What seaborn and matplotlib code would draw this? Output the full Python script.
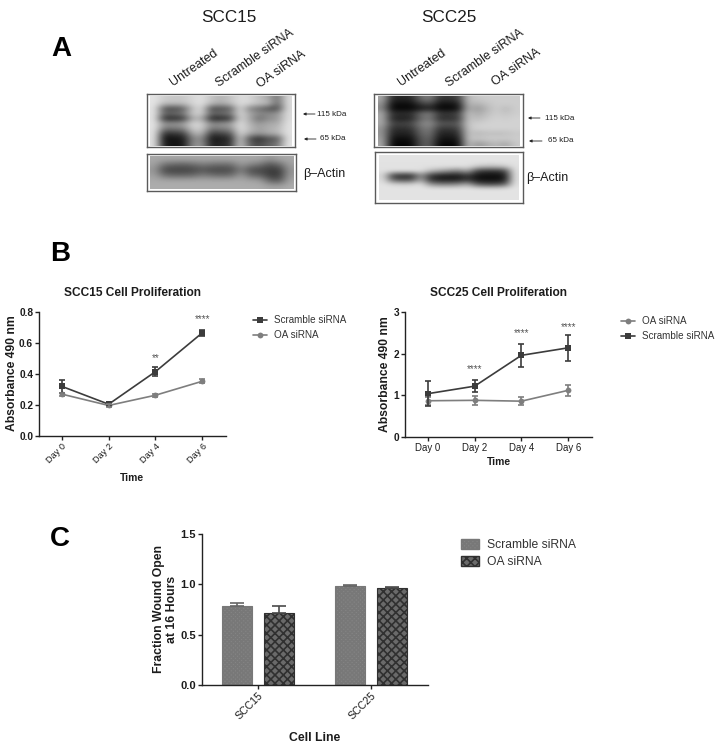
import matplotlib
matplotlib.use('Agg')
import matplotlib.pyplot as plt
from matplotlib.patches import Patch
import numpy as np
import pandas as pd
import seaborn as sns

W, H = 722, 749

days = ["Day 0", "Day 2", "Day 4", "Day 6"]
cell_lines = ["SCC15", "SCC25"]
lanes = ["Untreated", "Scramble siRNA", "OA siRNA"]

scc15_scramble = [0.32, 0.205, 0.415, 0.665]
scc15_scramble_err = [0.04, 0.01, 0.03, 0.02]
scc15_oa = [0.27, 0.197, 0.263, 0.353]
scc15_oa_err = [0.01, 0.01, 0.01, 0.012]
scc15_stars = ["", "", "**", "****"]
scc15_star_y = [0, 0, 0.5, 0.755]

scc25_scramble = [1.04, 1.22, 1.96, 2.14]
scc25_scramble_err = [0.3, 0.14, 0.28, 0.31]
scc25_oa = [0.87, 0.88, 0.86, 1.12]
scc25_oa_err = [0.1, 0.1, 0.1, 0.14]
scc25_stars = ["", "****", "****", "****"]
scc25_star_y = [0, 1.63, 2.5, 2.64]

wound_scramble = [0.788, 0.988]
wound_scramble_err = [0.03, 0.005]
wound_oa = [0.715, 0.964]
wound_oa_err = [0.07, 0.008]

# blot densities, grey levels
blot15_top = [
    [228, 205, 200, 200, 215, 225, 195, 180, 195, 220, 215, 190, 170, 110, 220],
    [228, 190, 190, 190, 215, 225, 185, 170, 190, 220, 215, 195, 190, 100, 220],
    [228, 80, 70, 90, 190, 215, 70, 80, 90, 220, 130, 110, 80, 70, 220],
    [228, 105, 110, 125, 205, 210, 105, 115, 125, 220, 170, 140, 140, 150, 220],
    [228, 40, 40, 50, 170, 170, 30, 35, 50, 215, 170, 105, 140, 150, 220],
    [228, 150, 150, 160, 215, 210, 140, 150, 160, 225, 180, 150, 170, 170, 225],
    [228, 120, 120, 130, 205, 205, 120, 130, 140, 225, 190, 160, 175, 185, 225],
    [228, 45, 55, 60, 170, 180, 55, 70, 85, 215, 170, 150, 170, 180, 225],
    [228, 15, 20, 25, 130, 140, 20, 30, 40, 205, 80, 40, 80, 85, 225],
    [228, 25, 20, 20, 140, 150, 30, 40, 50, 210, 100, 70, 100, 115, 228],
]
blot15_actin = [
    [168, 168, 168, 168, 168, 168, 168, 168, 168, 168, 168, 168, 150, 168, 168],
    [162, 115, 105, 100, 110, 125, 115, 110, 115, 155, 135, 120, 85, 110, 160],
    [150, 70, 65, 65, 70, 85, 70, 70, 75, 125, 75, 70, 60, 60, 150],
    [160, 110, 100, 100, 105, 125, 110, 105, 110, 155, 105, 95, 60, 60, 155],
    [170, 170, 170, 170, 170, 170, 170, 170, 170, 170, 165, 160, 100, 90, 165],
    [172, 172, 172, 172, 172, 172, 172, 172, 172, 172, 172, 172, 165, 165, 172],
]
blot25_top = [
    [170, 40, 40, 40, 110, 130, 55, 55, 65, 190, 200, 205, 205, 205, 205],
    [150, 15, 15, 15, 60, 80, 20, 20, 30, 185, 180, 195, 205, 205, 205],
    [135, 5, 5, 5, 20, 30, 5, 5, 10, 175, 150, 180, 205, 185, 205],
    [170, 50, 50, 50, 110, 130, 60, 60, 70, 195, 170, 190, 205, 195, 205],
    [170, 35, 30, 35, 100, 120, 45, 45, 55, 195, 185, 200, 210, 205, 210],
    [170, 70, 70, 75, 130, 145, 90, 90, 90, 200, 205, 210, 210, 210, 210],
    [150, 45, 45, 50, 110, 125, 55, 55, 65, 195, 210, 210, 210, 210, 210],
    [150, 35, 35, 35, 100, 115, 35, 35, 45, 195, 180, 190, 190, 190, 200],
    [160, 15, 15, 15, 85, 100, 20, 20, 25, 195, 200, 205, 205, 205, 205],
    [170, 5, 5, 5, 80, 95, 5, 5, 10, 190, 150, 170, 185, 165, 200],
]
blot25_actin = [
    [228, 228, 228, 228, 228, 228, 228, 228, 228, 228, 228, 228, 228, 228, 228],
    [226, 226, 226, 226, 226, 226, 226, 226, 226, 226, 226, 226, 226, 226, 226],
    [225, 225, 225, 225, 225, 225, 225, 225, 225, 225, 205, 195, 195, 205, 225],
    [225, 225, 225, 225, 225, 190, 170, 150, 130, 170, 70, 55, 55, 70, 225],
    [215, 60, 45, 45, 150, 60, 35, 30, 30, 60, 20, 15, 15, 25, 225],
    [220, 95, 75, 80, 170, 50, 30, 28, 30, 55, 20, 15, 15, 25, 225],
    [226, 215, 210, 212, 226, 150, 130, 130, 140, 170, 90, 75, 75, 95, 226],
    [228, 228, 228, 228, 228, 228, 228, 228, 228, 228, 225, 222, 222, 225, 228],
    [228, 228, 228, 228, 228, 228, 228, 228, 228, 228, 228, 228, 228, 228, 228],
    [228, 228, 228, 228, 228, 228, 228, 228, 228, 228, 228, 228, 228, 228, 228],
]

DARK = "#3c3c3c"
MID = "#7e7e7e"
TXT = "#1c1c1c"
SCRAMBLE_BAR = "#858585"
OA_BAR = "#6a6a6a"

sns.set_style("ticks")
plt.rcParams['font.family'] = ['Liberation Sans', 'DejaVu Sans']
plt.rcParams['hatch.linewidth'] = 1.2

fig = plt.figure(figsize=(W / 100, H / 100), dpi=100)


def px_axes(left, top, right, bottom):
    return fig.add_axes([left / W, 1 - bottom / H, (right - left) / W, (bottom - top) / H])


def place_ylabel(ax, x, y):
    ax.yaxis.set_label_coords(x / W, 1 - y / H, transform=fig.transFigure)


def place_xlabel(ax, x, y):
    ax.xaxis.set_label_coords(x / W, 1 - y / H, transform=fig.transFigure)


def style_axes(ax):
    sns.despine(ax=ax)
    for side in ["left", "bottom"]:
        ax.spines[side].set_linewidth(1.0)
        ax.spines[side].set_color("#222222")
    ax.tick_params(length=3, width=1.0, color="#222222", pad=1.2)


def draw_blot(box, inner, grid):
    frame = px_axes(*box)
    frame.set_xticks([])
    frame.set_yticks([])
    for s in frame.spines.values():
        s.set_linewidth(1.0)
        s.set_color("#5a5a5a")
    im = px_axes(*inner)
    im.imshow(np.array(grid), cmap="gray", vmin=0, vmax=255, aspect="auto", interpolation="bicubic")
    im.axis("off")


def draw_growth(box, series, errs, marks, colors, stars, star_y, ylim, yticks, yfmt, title, title_xy,
                label_xy, time_xy, legend_xy, rotate):
    ax = px_axes(*box)
    df = pd.DataFrame({
        "Time": days * len(series),
        "Absorbance": np.concatenate(list(series.values())),
        "Group": np.repeat(list(series.keys()), len(days)),
    })
    sns.lineplot(data=df, x="Time", y="Absorbance", hue="Group", style="Group", hue_order=list(series),
                 palette=colors, markers=marks, dashes=False, markersize=4.2, linewidth=1.2,
                 markeredgewidth=0, errorbar=None, ax=ax)
    for name in series:
        ax.errorbar(days, series[name], yerr=errs[name], fmt="none", ecolor=colors[name],
                    elinewidth=1.2, capsize=2.5, capthick=1.2)
    for i, s in enumerate(stars):
        if s:
            ax.text(i, star_y[i], s, ha="center", va="center", fontsize=7, color="#555555")
    ax.set_xlim(-0.49, 3.51)
    ax.set_ylim(*ylim)
    ax.set_yticks(yticks)
    ax.set_yticklabels([yfmt.format(v) for v in yticks], fontsize=7.3, color=TXT, fontweight="semibold")
    ax.set_xticks(range(4))
    if rotate:
        ax.set_xticklabels(days, fontsize=6.6, color=TXT, rotation=45, ha="right", rotation_mode="anchor")
    else:
        ax.set_xticklabels(days, fontsize=6.9, color=TXT)
    style_axes(ax)
    ax.set_ylabel("Absorbance 490 nm", fontsize=8.7, fontweight="bold", color=TXT)
    place_ylabel(ax, *label_xy)
    ax.set_xlabel("Time", fontsize=7.4, fontweight="bold", color=TXT)
    place_xlabel(ax, *time_xy)
    ov.text(*title_xy, title, ha="center", va="center", fontsize=8.6, fontweight="bold", color=TXT)
    ax.legend(loc="upper left", bbox_to_anchor=(legend_xy[0] / W, 1 - legend_xy[1] / H),
              bbox_transform=fig.transFigure, frameon=False, fontsize=7.1, handlelength=1.42,
              handletextpad=0.71, labelspacing=0.52, borderpad=0, borderaxespad=0,
              title=None, labelcolor="#333333")
    return ax


# overlay in picture pixels, only used for the free text and the blot arrows
ov = fig.add_axes([0, 0, 1, 1], zorder=10)
ov.set_xlim(0, W)
ov.set_ylim(H, 0)
ov.axis("off")

# panel A
draw_blot((147, 94, 295, 147), (150, 96, 292, 146), blot15_top)
draw_blot((147, 154, 296, 191), (150, 156, 294, 189), blot15_actin)
draw_blot((374, 94, 523, 147), (378, 96, 520, 146), blot25_top)
draw_blot((375, 152, 523, 203), (379, 155, 519, 200), blot25_actin)

for label, x in zip(cell_lines, [229, 449]):
    ov.text(x, 18, label, ha="center", va="center", fontsize=12.3, color=TXT)
for x0, ys in [((194, 255, 281), (68, 58, 69)), ((422, 485, 516), (68, 58, 67))]:
    for label, x, y in zip(lanes, x0, ys):
        ov.text(x, y, label, ha="center", va="center", rotation=35, fontsize=9, color=TXT)

for text, xr, y, x0, x1 in [("115 kDa", 346, 114, 315, 303), ("65 kDa", 346, 139, 316, 304),
                            ("115 kDa", 574, 118, 540, 528), ("65 kDa", 574, 141, 542, 529)]:
    ov.text(xr, y, text, ha="right", va="center", fontsize=5.8, color=TXT)
    ov.annotate("", xy=(x1, y), xytext=(x0, y),
                arrowprops=dict(arrowstyle="-|>", lw=0.6, color="#222222", mutation_scale=4, shrinkA=0, shrinkB=0))
ov.text(303, 174, "β–Actin", ha="left", va="center", fontsize=9, color=TXT)
ov.text(526, 178, "β–Actin", ha="left", va="center", fontsize=9, color=TXT)

for letter, x, y in [("A", 61, 56), ("B", 60, 261), ("C", 60, 546)]:
    ov.text(x, y, letter, ha="center", va="baseline", fontsize=20, fontweight="bold", color="black")

# panel B
draw_growth((39, 312, 226, 436),
            {"Scramble siRNA": scc15_scramble, "OA siRNA": scc15_oa},
            {"Scramble siRNA": scc15_scramble_err, "OA siRNA": scc15_oa_err},
            {"Scramble siRNA": "s", "OA siRNA": "o"},
            {"Scramble siRNA": DARK, "OA siRNA": MID},
            scc15_stars, scc15_star_y, (0, 0.8), [0, 0.2, 0.4, 0.6, 0.8], "{:.1f}",
            "SCC15 Cell Proliferation", (132, 293), (18, 373), (132, 473), (253, 315), True)
draw_growth((405, 312, 592, 437),
            {"OA siRNA": scc25_oa, "Scramble siRNA": scc25_scramble},
            {"OA siRNA": scc25_oa_err, "Scramble siRNA": scc25_scramble_err},
            {"Scramble siRNA": "s", "OA siRNA": "o"},
            {"Scramble siRNA": DARK, "OA siRNA": MID},
            scc25_stars, scc25_star_y, (0, 3), [0, 1, 2, 3], "{:d}",
            "SCC25 Cell Proliferation", (498, 293), (391, 374), (499, 457), (621, 316), False)

# panel C
ax = px_axes(202, 534, 428, 685)
bars = pd.DataFrame({
    "Line": cell_lines * 2,
    "Fraction": wound_scramble + wound_oa,
    "Group": ["Scramble siRNA"] * 2 + ["OA siRNA"] * 2,
})
sns.barplot(data=bars, x="Line", y="Fraction", hue="Group", order=cell_lines,
            hue_order=["Scramble siRNA", "OA siRNA"], palette=[SCRAMBLE_BAR, OA_BAR],
            width=0.743, gap=0.287, errorbar=None, legend=False, ax=ax)
group_err = wound_scramble_err + wound_oa_err
patches = sorted([p for p in ax.patches], key=lambda p: p.get_x())
order = [0, 2, 1, 3]  # left to right: scramble, oa, scramble, oa
for k, p in enumerate(patches):
    is_oa = k % 2 == 1
    p.set_edgecolor("#303030" if is_oa else "#787878")
    p.set_hatch("xxxx" if is_oa else "xxxxxxxx")
    p.set_linewidth(0.8)
    ax.errorbar(p.get_x() + p.get_width() / 2, p.get_height(),
                yerr=[[0], [group_err[order[k]]]], fmt="none",
                ecolor="#4a4a4a" if is_oa else "#666666", elinewidth=1.2, capsize=5, capthick=1.2)
ax.set_xlim(-0.496, 1.504)
ax.set_ylim(0, 1.5)
ax.set_yticks([0, 0.5, 1.0, 1.5])
ax.set_yticklabels(["0.0", "0.5", "1.0", "1.5"], fontsize=8, fontweight="semibold", color=TXT)
ax.set_xticks([0, 1])
ax.set_xticklabels(cell_lines, fontsize=7.6, rotation=45, ha="right", rotation_mode="anchor", color=TXT)
style_axes(ax)
ax.set_ylabel("Fraction Wound Open\nat 16 Hours", fontsize=8.8, fontweight="bold", color=TXT, linespacing=1.15)
place_ylabel(ax, 178, 609)
ax.set_xlabel("Cell Line", fontsize=8.8, fontweight="bold", color=TXT)
place_xlabel(ax, 315, 732)
handles = [Patch(facecolor=SCRAMBLE_BAR, edgecolor="#787878", hatch="xxxxxxxx"),
           Patch(facecolor=OA_BAR, edgecolor="#303030", hatch="xxxx")]
ax.legend(handles, ["Scramble siRNA", "OA siRNA"], loc="upper left",
          bbox_to_anchor=(461 / W, 1 - 539 / H), bbox_transform=fig.transFigure, frameon=False,
          fontsize=8.7, handlelength=1.5, handleheight=0.85, handletextpad=0.66, labelspacing=0.42,
          borderpad=0, borderaxespad=0, labelcolor="#333333")

fig.savefig("out.png", dpi=100)
plt.close(fig)
